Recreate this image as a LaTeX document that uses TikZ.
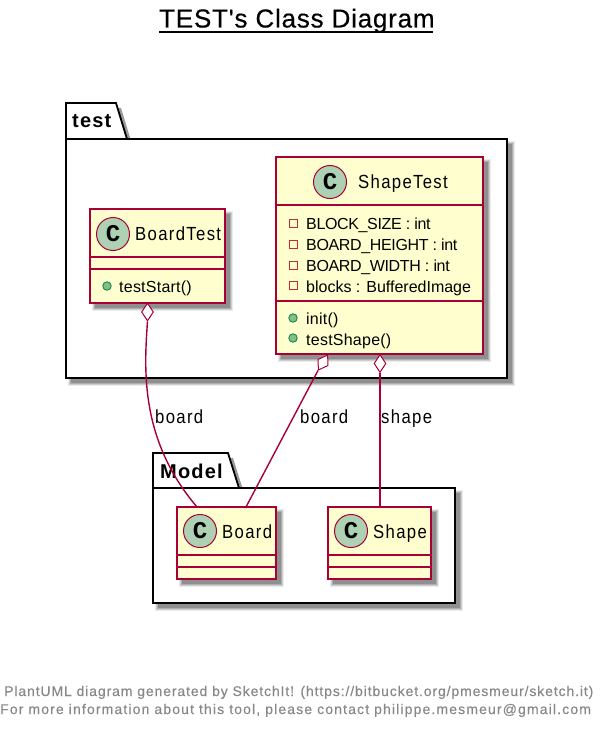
\documentclass[tikz,border=0pt]{standalone}
\usepackage{fontspec}
\usetikzlibrary{shapes.geometric,calc}
\setmainfont{Liberation Sans}
\newfontfamily\lsA[LetterSpace=7,FakeStretch=0.88]{Liberation Sans}
\newfontfamily\lsB[LetterSpace=1.5]{Liberation Sans}
\newfontfamily\lsC[LetterSpace=0]{Liberation Sans}
\newfontfamily\lsU[LetterSpace=-2.2]{Liberation Sans}
\newfontfamily\lsP[LetterSpace=6.3,FakeBold=0.2]{Liberation Sans}
\newfontfamily\lsQ[LetterSpace=8.1,FakeBold=0.2]{Liberation Sans}
\newfontfamily\lsT[LetterSpace=3,FakeBold=0.4]{Liberation Sans}
\newfontfamily\lsK[LetterSpace=6]{Liberation Sans}
\newfontfamily\monoC{Liberation Mono}
\definecolor{umlborder}{HTML}{A80036}
\definecolor{umlfill}{HTML}{FEFECE}
\definecolor{umlcirc}{HTML}{ADD1B2}
\definecolor{pubfill}{HTML}{84BE84}
\definecolor{pubdraw}{HTML}{038048}
\definecolor{privdraw}{HTML}{C82930}
\definecolor{footgray}{HTML}{888888}
\newcommand{\softshadow}[4]{%
  \foreach \e/\o in {3/.08,2/.12,1/.15,0/.18}{
    \fill[black,opacity=\o] (#1+5-\e,#2+5-\e) rectangle (#3+5+\e,#4+5+\e);
  }}
\newcommand{\tabshadow}[4]{%
  \fill[black,opacity=.4] (#1+5,#4+5) -- (#1+5,#2+5) -- (#3+5-11,#2+5) -- (#3+5,#4+5) -- cycle;
}
\tikzset{
  x=1pt,y=-1pt,
  classbox/.style={draw=umlborder,fill=umlfill,line width=1.8pt,rectangle,inner sep=0pt},
  sepline/.style={draw=umlborder,line width=1.6pt},
  spotc/.style={circle,draw=umlborder,fill=umlcirc,line width=1pt,minimum size=33pt,inner sep=0pt,font=\monoC\bfseries\fontsize{24}{24}\selectfont},
  classname/.style={anchor=base west,inner sep=0pt,font=\lsA\fontsize{19}{19}\selectfont,text=black},
  member/.style={anchor=base west,inner sep=0pt,font=\lsB\fontsize{16}{16}\selectfont,text=black},
  memberu/.style={member,font=\lsU\fontsize{16}{16}\selectfont},
  memberc/.style={member,font=\lsC\fontsize{16}{16}\selectfont},
  edgelabel/.style={anchor=base west,inner sep=0pt,font=\lsA\fontsize{19}{19}\selectfont,text=black},
  pkgname/.style={anchor=base west,inner sep=0pt,font=\lsK\bfseries\fontsize{20}{20}\selectfont,text=black},
  footer/.style={anchor=base west,inner sep=0pt,text=footgray},
  pubm/.style={circle,draw=pubdraw,fill=pubfill,line width=.8pt,minimum size=8.5pt,inner sep=0pt},
  privm/.style={rectangle,draw=privdraw,line width=.8pt,minimum size=8pt,inner sep=0pt},
  aggr/.style={diamond,draw=umlborder,fill=white,line width=1pt,inner sep=0pt,minimum width=12pt,minimum height=18pt},
  assoc/.style={draw=umlborder,line width=1.4pt},
  pkgline/.style={draw=black,line width=1.8pt,fill=white},
}
\begin{document}
\begin{tikzpicture}
\useasboundingbox (0,0) rectangle (607,733);
\fill[white] (0,0) rectangle (607,733);
% title
\node[anchor=base west,inner sep=0pt,font=\lsT\fontsize{26}{26}\selectfont,text=black] (title) at (159,27.5) {TEST's Class Diagram};
\draw[black,line width=1.5pt] (159,32) -- (433,32);
% package test
\softshadow{66}{139}{507}{378}
\tabshadow{66}{103}{127}{139}
\draw[pkgline] (66,139) -- (66,103) -- (116,103) -- (127,139) -- cycle;
\node[pkgline,rectangle,minimum width=441pt,minimum height=239pt,inner sep=0pt] (pkgtest) at (286.5,258.5) {};
\node[pkgname] (pkgtesttxt) at (72,128) {test};
% package Model
\softshadow{153}{488}{455}{603}
\tabshadow{153}{453}{239}{488}
\draw[pkgline] (153,488) -- (153,453) -- (228,453) -- (239,488) -- cycle;
\node[pkgline,rectangle,minimum width=302pt,minimum height=115pt,inner sep=0pt] (pkgmodel) at (304,545.5) {};
\node[pkgname] (pkgmodeltxt) at (160,478) {Model};
% BoardTest
\softshadow{90}{209}{225}{303}
\node[classbox,minimum width=135pt,minimum height=94pt] (BoardTest) at (157.5,256) {};
\draw[sepline] (90,257) -- (225,257) (90,269) -- (225,269);
\node[spotc] (cBT) at (113,234) {C};
\node[classname] (nBT) at (135,240.5) {BoardTest};
\node[pubm] (mBT) at (107,286) {};
\node[member] (tBT) at (119,292) {testStart()};
% ShapeTest
\softshadow{276}{157}{483}{354}
\node[classbox,minimum width=207pt,minimum height=197pt] (ShapeTest) at (379.5,255.5) {};
\draw[sepline] (276,205) -- (483,205) (276,301) -- (483,301);
\node[spotc] (cST) at (330,182) {C};
\node[classname] (nST) at (358,188.5) {ShapeTest};
\node[privm] (p1) at (293,223) {};
\node[privm] (p2) at (293,244) {};
\node[privm] (p3) at (293,265) {};
\node[privm] (p4) at (293,285) {};
\node[memberu] (a1) at (306,229) {BLOCK\_SIZE : int};
\node[memberu] (a2) at (306,250) {BOARD\_HEIGHT : int};
\node[memberu] (a3) at (306,271) {BOARD\_WIDTH : int};
\node[memberc] (a4) at (306,292) {blocks : BufferedImage};
\node[pubm] (m1) at (293,318) {};
\node[pubm] (m2) at (293,338) {};
\node[member] (t1) at (306,324) {init()};
\node[member] (t2) at (306,345) {testShape()};
% Board
\softshadow{177}{507}{276}{579}
\node[classbox,minimum width=99pt,minimum height=72pt] (Board) at (226.5,543) {};
\draw[sepline] (177,555) -- (276,555) (177,567) -- (276,567);
\node[spotc] (cB) at (200,531) {C};
\node[classname] (nB) at (222,538.5) {Board};
% Shape
\softshadow{328}{507}{431}{579}
\node[classbox,minimum width=103pt,minimum height=72pt] (Shape) at (379.5,543) {};
\draw[sepline] (328,555) -- (431,555) (328,567) -- (431,567);
\node[spotc] (cS) at (351,531) {C};
\node[classname] (nS) at (373,538.5) {Shape};
% connectors
\node[aggr] (d1) at (147.5,312) {};
\node[aggr,rotate=-32] (d2) at (323,362.5) {};
\node[aggr] (d3) at (380,363.5) {};
\coordinate (e1) at (197,507);
\coordinate (e2) at (246,507);
\coordinate (e3) at (380,507);
\draw[assoc] (d1.south) .. controls (144,370) and (140,440) .. (e1);
\draw[assoc] (d2.south) -- (e2);
\draw[assoc] (d3.south) -- (e3);
\node[edgelabel] (l1) at (155,423.5) {board};
\node[edgelabel] (l2) at (300,423.5) {board};
\node[edgelabel] (l3) at (381,423.5) {shape};
% footer
\node[footer,font=\lsP\fontsize{14}{14}\selectfont] (f1) at (4,696) {PlantUML diagram generated by SketchIt! (https://bitbucket.org/pmesmeur/sketch.it)};
\node[footer,font=\lsQ\fontsize{14}{14}\selectfont] (f2) at (0,714) {For more information about this tool, please contact philippe.mesmeur@gmail.com};
\end{tikzpicture}
\end{document}
